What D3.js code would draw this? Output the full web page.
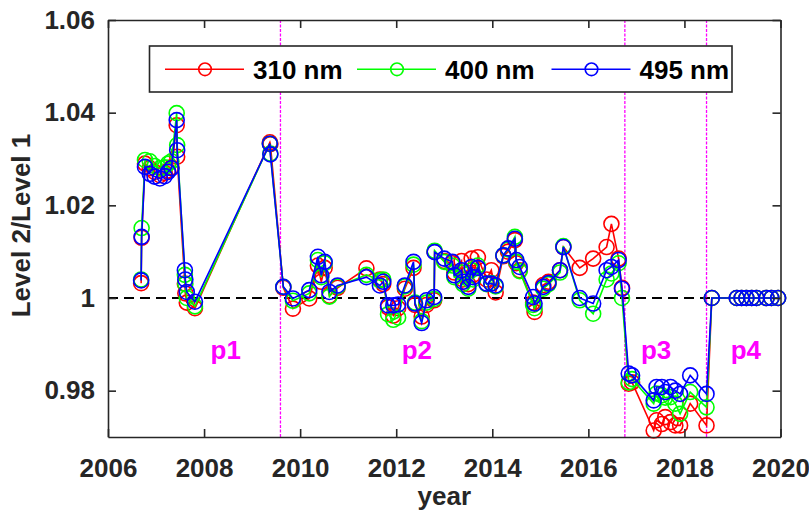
<!DOCTYPE html>
<html>
<head>
<meta charset="utf-8">
<script src="https://cdn.jsdelivr.net/npm/d3@7"></script>
<style>
  html, body { margin: 0; padding: 0; background: #fff; }
  svg { display: block; }
  text { font-family: "Liberation Sans", Arial, sans-serif; font-weight: bold; }
</style>
</head>
<body>
<svg id="chart" width="809" height="519"></svg>
<script>
// ---------------- data ----------------
const dates = [
  2006.69, 2006.70, 2006.77, 2006.87, 2006.97, 2007.08, 2007.18, 2007.25, 2007.32, 2007.43, 2007.44,
  2007.60, 2007.61, 2007.64, 2007.81, 2009.37, 2009.38,
  2009.65, 2009.85, 2010.19, 2010.37, 2010.44, 2010.51, 2010.61, 2010.78, 2011.38, 2011.66,
  2011.73, 2011.83, 2011.94, 2012.04, 2012.18, 2012.36, 2012.39, 2012.53, 2012.63, 2012.79,
  2012.80, 2013.00, 2013.17, 2013.21, 2013.36, 2013.39, 2013.50, 2013.57, 2013.60, 2013.70,
  2013.88, 2013.98, 2014.07, 2014.23, 2014.33, 2014.47, 2014.50, 2014.57, 2014.85, 2014.88,
  2015.06, 2015.17, 2015.41, 2015.48, 2015.82, 2016.10, 2016.38, 2016.48, 2016.63, 2016.70,
  2016.84, 2016.91, 2017.36, 2017.42, 2017.53, 2017.60, 2017.71, 2017.81, 2017.91, 2018.12, 2018.46,
  2018.57, 2019.09, 2019.19, 2019.29, 2019.40, 2019.50, 2019.71, 2019.81, 2019.95
];
const red310 = [
  1.0032, 1.0130, 1.0290, 1.0280, 1.0272, 1.0265, 1.0270, 1.0275, 1.0282, 1.0373, 1.0305,
  1.0031, 1.0010, 0.9990, 0.9978, 1.0336, 1.0332,
  1.0022, 0.9977, 0.9999, 1.0070, 1.0035, 1.0065, 1.0005, 1.0022, 1.0064, 1.0040,
  1.0030, 0.9980, 0.9962, 0.9978, 1.0020, 1.0065, 0.9985, 0.9960, 0.9985, 0.9995,
  1.0100, 1.0080, 1.0075, 1.0055, 1.0080, 1.0040, 1.0030, 1.0085, 1.0050, 1.0088,
  1.0040, 1.0060, 1.0012, 1.0090, 1.0100, 1.0125, 1.0075, 1.0060, 0.9990, 0.9970,
  1.0028, 1.0035, 1.0060, 1.0110, 1.0065, 1.0085, 1.0110, 1.0160, 1.0085, 1.0022,
  0.9815, 0.9818, 0.9714, 0.9736, 0.9728, 0.9743, 0.9732, 0.9725, 0.9725, 0.9772, 0.9725,
  1.0000, 1.0000, 1.0000, 1.0000, 1.0000, 1.0000, 1.0000, 1.0000, 1.0000
];
const green400 = [
  1.0040, 1.0151, 1.0298, 1.0295, 1.0285, 1.0280, 1.0282, 1.0290, 1.0295, 1.0399, 1.0330,
  1.0050, 1.0030, 1.0000, 0.9982, 1.0333, 1.0312,
  1.0024, 0.9994, 1.0010, 1.0082, 1.0045, 1.0075, 1.0003, 1.0025, 1.0050, 1.0038,
  1.0040, 0.9965, 0.9953, 0.9958, 1.0025, 1.0072, 0.9990, 0.9950, 0.9990, 0.9998,
  1.0102, 1.0078, 1.0070, 1.0045, 1.0055, 1.0030, 1.0020, 1.0060, 1.0040, 1.0070,
  1.0030, 1.0032, 1.0025, 1.0092, 1.0105, 1.0132, 1.0078, 1.0058, 0.9985, 0.9978,
  1.0020, 1.0030, 1.0055, 1.0112, 0.9995, 0.9966, 1.0040, 1.0053, 1.0075, 1.0000,
  0.9818, 0.9825, 0.9772, 0.9794, 0.9790, 0.9785, 0.9786, 0.9772, 0.9750, 0.9797, 0.9764,
  1.0000, 1.0000, 1.0000, 1.0000, 1.0000, 1.0000, 1.0000, 1.0000, 1.0000
];
const blue495 = [
  1.0038, 1.0132, 1.0283, 1.0268, 1.0262, 1.0258, 1.0263, 1.0272, 1.0280, 1.0384, 1.0319,
  1.0060, 1.0040, 1.0013, 0.9992, 1.0333, 1.0310,
  1.0024, 0.9999, 1.0017, 1.0089, 1.0049, 1.0078, 1.0013, 1.0027, 1.0045, 1.0027,
  1.0035, 0.9984, 0.9984, 0.9986, 1.0027, 1.0078, 0.9988, 0.9946, 0.9995, 1.0002,
  1.0099, 1.0085, 1.0078, 1.0049, 1.0060, 1.0035, 1.0024, 1.0067, 1.0045, 1.0065,
  1.0031, 1.0031, 1.0027, 1.0092, 1.0107, 1.0128, 1.0082, 1.0067, 1.0002, 0.9988,
  1.0024, 1.0032, 1.0060, 1.0110, 1.0000, 0.9988, 1.0060, 1.0067, 1.0082, 1.0020,
  0.9837, 0.9833, 0.9779, 0.9808, 0.9808, 0.9797, 0.9808, 0.9800, 0.9793, 0.9833, 0.9793,
  1.0000, 1.0000, 1.0000, 1.0000, 1.0000, 1.0000, 1.0000, 1.0000, 1.0000
];
const seriesNames = ["310 nm", "400 nm", "495 nm"];
const seriesColors = ["#ff0000", "#00ff00", "#0000ff"];
const periodBreaks = [2009.59, 2016.76, 2018.46];
const periodLabels = ["p1", "p2", "p3", "p4"];
const periodLabelX = [2008.45, 2012.43, 2017.41, 2019.28];
const xTicks = [2006, 2008, 2010, 2012, 2014, 2016, 2018, 2020];
const yTicks = [0.98, 1.00, 1.02, 1.04, 1.06];
const yTickLabels = ["0.98", "1", "1.02", "1.04", "1.06"];
const xLabel = "year";
const yLabel = "Level 2/Level 1";

// ---------------- layout ----------------
const svg = d3.select("#chart");
const L = 108, R = 780.5, T = 20, B = 437;
const x = d3.scaleLinear().domain([2006, 2020]).range([L, R]);
const y = d3.scaleLinear().domain([0.97, 1.06]).range([B, T]);
const axisColor = "#262626";

const series = [red310, green400, blue495].map((vals, i) => ({
  name: seriesNames[i], color: seriesColors[i],
  pts: dates.map((d, j) => ({ x: d, y: vals[j] }))
}));

// reference line at 1
svg.append("line")
  .attr("x1", x(2006)).attr("x2", x(2020))
  .attr("y1", y(1)).attr("y2", y(1))
  .attr("stroke", "#000").attr("stroke-width", 2)
  .attr("stroke-dasharray", "10,6");

// period breaks
svg.selectAll(".brk").data(periodBreaks).enter().append("line")
  .attr("x1", d => x(d)).attr("x2", d => x(d))
  .attr("y1", T).attr("y2", B)
  .attr("stroke", "#ff00ff").attr("stroke-width", 1.3)
  .attr("stroke-dasharray", "3,1.5");

// period labels
svg.selectAll(".plab").data(periodLabels).enter().append("text")
  .attr("x", (d, i) => x(periodLabelX[i])).attr("y", 359)
  .attr("text-anchor", "middle").attr("font-size", 26)
  .attr("fill", "#ff00ff").text(d => d);

// series
const line = d3.line().x(d => x(d.x)).y(d => y(d.y));
series.forEach(s => {
  const g = svg.append("g");
  g.append("path").datum(s.pts).attr("d", line)
    .attr("fill", "none").attr("stroke", s.color).attr("stroke-width", 1.6);
  g.selectAll("circle").data(s.pts).enter().append("circle")
    .attr("cx", d => x(d.x)).attr("cy", d => y(d.y)).attr("r", 7.5)
    .attr("fill", "none").attr("stroke", s.color).attr("stroke-width", 1.6);
});

// axes
const fmtY = d => yTickLabels[yTicks.indexOf(d)];
const gB = svg.append("g").attr("transform", `translate(0,${B})`)
  .call(d3.axisBottom(x).tickValues(xTicks).tickFormat(d3.format("d")).tickSizeInner(-8).tickSizeOuter(0).tickPadding(21.5));
const gT = svg.append("g").attr("transform", `translate(0,${T})`)
  .call(d3.axisTop(x).tickValues(xTicks).tickFormat("").tickSizeInner(-8).tickSizeOuter(0));
const gL = svg.append("g").attr("transform", `translate(${L},0)`)
  .call(d3.axisLeft(y).tickValues(yTicks).tickFormat(fmtY).tickSizeInner(-8).tickSizeOuter(0).tickPadding(13));
const gR = svg.append("g").attr("transform", `translate(${R},0)`)
  .call(d3.axisRight(y).tickValues(yTicks).tickFormat("").tickSizeInner(-8).tickSizeOuter(0));
[gB, gT, gL, gR].forEach(g => {
  g.selectAll("path.domain").attr("stroke", axisColor).attr("stroke-width", 1.6);
  g.selectAll(".tick line").attr("stroke", axisColor).attr("stroke-width", 1.6);
  g.selectAll(".tick text").attr("font-size", 26).attr("fill", axisColor)
    .attr("font-family", "'Liberation Sans', Arial, sans-serif").attr("font-weight", "bold");
});

// axis labels
svg.append("text").attr("x", (L + R) / 2).attr("y", 505)
  .attr("text-anchor", "middle").attr("font-size", 26).attr("fill", axisColor).text(xLabel);
svg.append("text").attr("transform", `translate(30,${(T + B) / 2 - 3}) rotate(-90)`)
  .attr("text-anchor", "middle").attr("font-size", 26).attr("fill", axisColor).text(yLabel);

// legend
const lg = svg.append("g");
lg.append("rect").attr("x", 149.5).attr("y", 46).attr("width", 582.5).attr("height", 46)
  .attr("fill", "#fff").attr("stroke", axisColor).attr("stroke-width", 1.6);
const legX = [165, 357, 551.5];
series.forEach((s, i) => {
  const x0 = legX[i], cy = 69.3;
  lg.append("line").attr("x1", x0).attr("x2", x0 + 79).attr("y1", cy).attr("y2", cy)
    .attr("stroke", s.color).attr("stroke-width", 1.6);
  lg.append("circle").attr("cx", x0 + 40).attr("cy", cy).attr("r", 6.3)
    .attr("fill", "none").attr("stroke", s.color).attr("stroke-width", 1.6);
  lg.append("text").attr("x", x0 + 88).attr("y", cy + 9.3)
    .attr("font-size", 26).attr("fill", "#000").text(s.name);
});
</script>
</body>
</html>
